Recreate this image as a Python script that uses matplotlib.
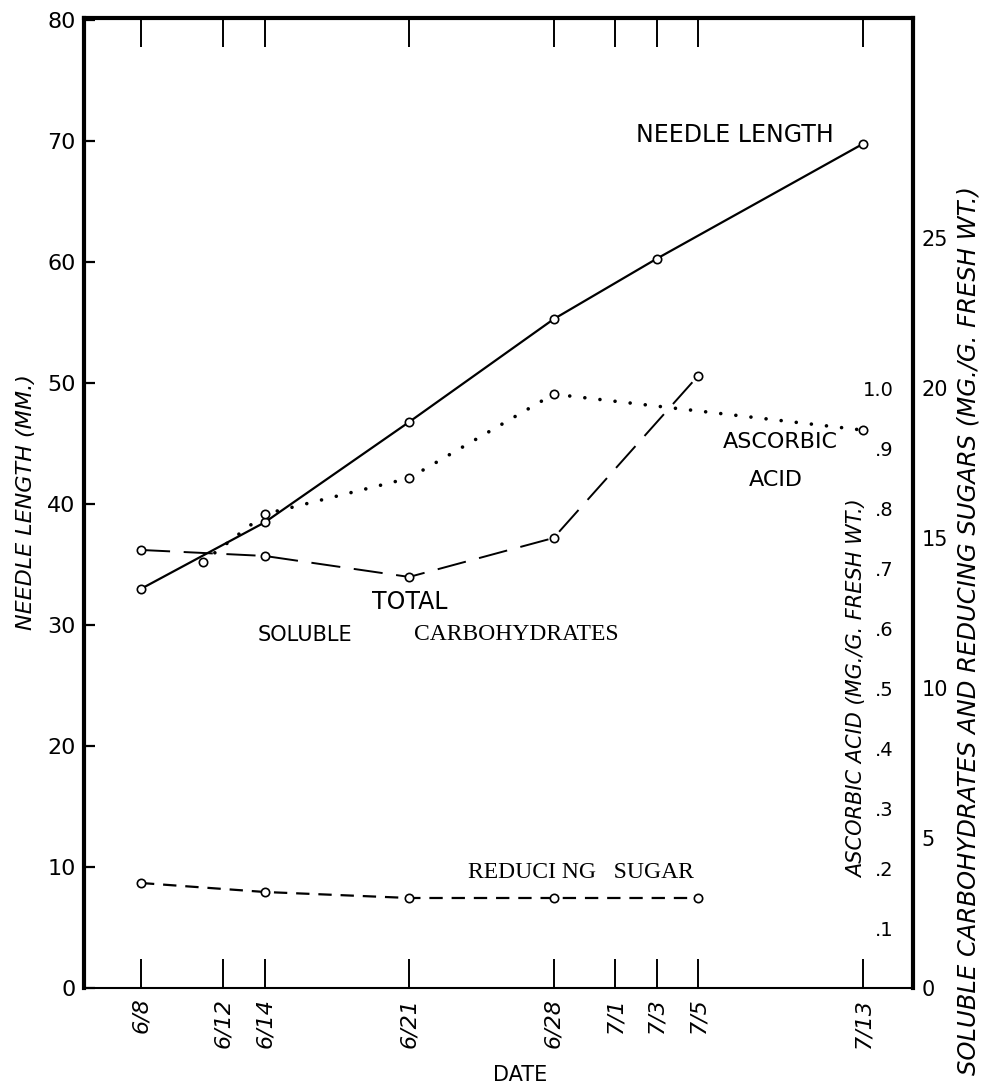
import datetime as dt
import matplotlib
matplotlib.use("Agg")
import matplotlib.pyplot as plt

plt.rcParams['font.family'] = ['DejaVu Sans']

# sampling dates and values
tick_dates = ["6/8", "6/12", "6/14", "6/21", "6/28", "7/1", "7/3", "7/5", "7/13"]

needle_dates = ["6/8", "6/14", "6/21", "6/28", "7/3", "7/13"]
needle_mm = [33.0, 38.5, 46.8, 55.3, 60.3, 69.8]

carb_dates = ["6/8", "6/14", "6/21", "6/28", "7/5"]
total_carb = [14.6, 14.4, 13.7, 15.0, 20.4]
reducing_sugar = [3.5, 3.2, 3.0, 3.0, 3.0]

asc_dates = ["6/11", "6/14", "6/21", "6/28", "7/13"]
ascorbic = [0.71, 0.79, 0.85, 0.99, 0.93]

left_ticks = [0, 10, 20, 30, 40, 50, 60, 70, 80]
carb_ticks = [0, 5, 10, 15, 20, 25]
asc_ticks = [0.1, 0.2, 0.3, 0.4, 0.5, 0.6, 0.7, 0.8, 0.9, 1.0]
asc_labels = [".1", ".2", ".3", ".4", ".5", ".6", ".7", ".8", ".9", "1.0"]


def day(s):
    m, d = s.split("/")
    return (dt.date(1960, int(m), int(d)) - dt.date(1960, 6, 8)).days


fig = plt.figure(figsize=(9.81, 10.84), dpi=100)
ax = fig.add_axes([84 / 981, 1 - 988 / 1084, 829 / 981, 970 / 1084])
ax2 = ax.twinx()
ax3 = ax.twinx()

mk = dict(marker='o', ms=6, mfc='white', mec='black', mew=1.2, color='black')

ax.plot([day(d) for d in needle_dates], needle_mm, lw=1.6, **mk)
ax2.plot([day(d) for d in carb_dates], total_carb, lw=1.4, dashes=(15, 7), **mk)
ax2.plot([day(d) for d in carb_dates], reducing_sugar, lw=1.6, dashes=(6, 4), **mk)
ax3.plot([day(d) for d in asc_dates], ascorbic, lw=2.6, dashes=(0.01, 4.2),
         dash_capstyle='round', **mk)

ax.set_xlim(-2.76, 37.42)
ax.set_ylim(0, 80.2)
ax2.set_ylim(0, 32.33)
ax3.set_ylim(0, 1.617)

for a in (ax2, ax3):
    for s in a.spines.values():
        s.set_visible(False)
for side in ('left', 'top', 'right'):
    ax.spines[side].set_linewidth(3)
ax.spines['bottom'].set_linewidth(1.5)

ax.set_xticks([day(d) for d in tick_dates], labels=tick_dates)
ax.tick_params(axis='x', direction='in', length=21, width=1.4, top=True,
               pad=7, labelsize=16, labelrotation=90)
for lbl in ax.get_xticklabels():
    lbl.set_style('italic')

ax.set_yticks(left_ticks)
ax.tick_params(axis='y', direction='in', length=8, width=1.6, pad=6, labelsize=16)

ax2.set_yticks(carb_ticks)
ax2.tick_params(axis='y', length=0, pad=6, labelsize=15)

ax3.set_yticks(asc_ticks, labels=asc_labels)
ax3.tick_params(axis='y', length=0, pad=-14, labelsize=14)
for lbl in ax3.get_yticklabels():
    lbl.set_horizontalalignment('right')

ax.set_xlabel("DATE", fontsize=15)
ax.xaxis.set_label_coords(0.526, -0.079)
ax.set_ylabel("NEEDLE LENGTH (MM.)", fontsize=16, style='italic')
ax.yaxis.set_label_coords(-0.058, 0.501)
ax2.set_ylabel("SOLUBLE CARBOHYDRATES AND REDUCING SUGARS (MG./G. FRESH WT.)",
               fontsize=17.5, style='italic')
ax2.yaxis.set_label_coords(1.052, 0.369)
ax3.set_ylabel("ASCORBIC ACID (MG./G. FRESH WT.)", fontsize=15, style='italic')
ax3.yaxis.set_label_coords(0.921, 0.309)

# curve labels
t = ax.transAxes
ax.text(0.785, 0.879, "NEEDLE LENGTH", transform=t, fontsize=17, ha='center', va='center')
ax.text(0.393, 0.398, "TOTAL", transform=t, fontsize=17, ha='center', va='center')
ax.text(0.266, 0.364, "SOLUBLE", transform=t, fontsize=15, ha='center', va='center')
ax.text(0.521, 0.364, "CARBOHYDRATES", transform=t, fontsize=17, ha='center',
        va='center', family='Liberation Serif')
ax.text(0.600, 0.119, "REDUCI NG   SUGAR", transform=t, fontsize=17, ha='center',
        va='center', family='Liberation Serif')
ax.text(0.840, 0.563, "ASCORBIC", transform=t, fontsize=16, ha='center', va='center')
ax.text(0.834, 0.524, "ACID", transform=t, fontsize=16, ha='center', va='center')

fig.savefig("out.png", dpi=100)
